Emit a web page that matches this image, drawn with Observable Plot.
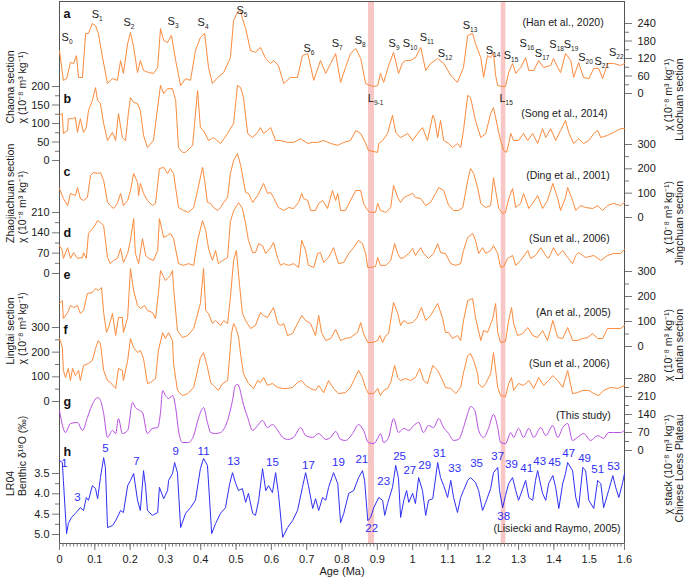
<!DOCTYPE html>
<html><head><meta charset="utf-8">
<script src="https://cdn.jsdelivr.net/npm/d3@7"></script>
<script src="https://cdn.jsdelivr.net/npm/@observablehq/plot@0.6"></script>
<style>
body{margin:0;background:#fff;}
#chart{position:relative;width:685px;height:580px;}
#chart svg{position:absolute;left:0;top:0;}
</style></head><body><div id="chart"></div>
<script>
// ---------------- DATA (age in Ma, value) ----------------
const luochuan = [[0,147],[0.011,45],[0.020,51],[0.031,106],[0.040,103],[0.048,130],[0.054,55],[0.065,55],[0.074,206],[0.082,206],[0.093,240],[0.102,233],[0.110,206],[0.122,123],[0.136,34],[0.150,51],[0.164,45],[0.173,113],[0.181,69],[0.193,171],[0.201,209],[0.210,158],[0.221,72],[0.229,113],[0.238,79],[0.252,72],[0.266,69],[0.278,89],[0.286,223],[0.295,182],[0.306,175],[0.317,199],[0.329,113],[0.343,27],[0.357,51],[0.371,45],[0.385,147],[0.399,192],[0.411,206],[0.422,89],[0.433,34],[0.448,55],[0.465,72],[0.484,123],[0.493,250],[0.504,278],[0.513,285],[0.518,257],[0.527,223],[0.541,147],[0.555,141],[0.569,158],[0.584,120],[0.598,103],[0.606,113],[0.620,96],[0.635,34],[0.654,55],[0.674,55],[0.688,130],[0.703,137],[0.720,45],[0.739,113],[0.754,69],[0.768,103],[0.782,137],[0.796,38],[0.810,89],[0.824,137],[0.839,154],[0.853,120],[0.867,34],[0.887,24],[0.901,27],[0.909,69],[0.918,38],[0.932,96],[0.946,141],[0.960,69],[0.972,106],[0.980,113],[0.994,113],[1.008,123],[1.023,158],[1.037,79],[1.051,103],[1.071,120],[1.088,103],[1.108,62],[1.127,38],[1.144,89],[1.156,199],[1.170,206],[1.178,171],[1.193,123],[1.201,55],[1.212,130],[1.221,123],[1.229,141],[1.235,62],[1.241,27],[1.255,24],[1.263,24],[1.272,72],[1.283,103],[1.292,69],[1.306,89],[1.320,123],[1.329,79],[1.343,79],[1.357,113],[1.371,89],[1.391,96],[1.399,120],[1.411,89],[1.419,72],[1.433,137],[1.448,113],[1.456,55],[1.470,106],[1.484,55],[1.499,51],[1.513,86],[1.527,86],[1.538,51],[1.552,103],[1.569,103],[1.589,96],[1.600,103]];

const chaona = [[0,122],[0.008,127],[0.011,73],[0.023,81],[0.025,113],[0.037,113],[0.045,116],[0.051,76],[0.059,113],[0.068,76],[0.076,89],[0.082,135],[0.093,162],[0.102,197],[0.108,162],[0.116,154],[0.125,100],[0.136,54],[0.150,76],[0.159,54],[0.167,127],[0.178,62],[0.187,54],[0.195,127],[0.201,170],[0.210,157],[0.221,154],[0.229,135],[0.238,68],[0.249,35],[0.266,54],[0.286,203],[0.295,181],[0.306,194],[0.320,194],[0.329,162],[0.337,35],[0.348,22],[0.357,22],[0.377,41],[0.391,189],[0.399,89],[0.408,81],[0.422,54],[0.436,62],[0.456,46],[0.476,73],[0.493,100],[0.504,203],[0.513,197],[0.521,170],[0.533,73],[0.547,62],[0.561,76],[0.569,89],[0.578,73],[0.589,81],[0.598,89],[0.612,54],[0.626,54],[0.646,49],[0.663,49],[0.683,59],[0.703,46],[0.717,49],[0.731,49],[0.748,54],[0.768,46],[0.788,41],[0.805,49],[0.824,54],[0.839,81],[0.853,73],[0.867,46],[0.875,27],[0.901,22],[0.904,46],[0.915,54],[0.929,73],[0.943,122],[0.952,76],[0.966,62],[0.986,73],[1.000,54],[1.014,73],[1.028,89],[1.042,54],[1.057,122],[1.062,113],[1.071,62],[1.079,108],[1.088,54],[1.102,46],[1.113,35],[1.127,46],[1.136,35],[1.144,81],[1.156,176],[1.164,170],[1.178,108],[1.193,62],[1.207,73],[1.221,127],[1.229,143],[1.241,89],[1.249,54],[1.258,27],[1.266,22],[1.272,46],[1.278,73],[1.286,54],[1.300,54],[1.314,73],[1.326,54],[1.340,73],[1.354,46],[1.368,86],[1.377,62],[1.391,86],[1.405,54],[1.419,81],[1.433,108],[1.442,76],[1.456,46],[1.470,59],[1.484,46],[1.499,54],[1.513,73],[1.524,81],[1.533,62],[1.552,68],[1.569,76],[1.589,86],[1.600,86]];

const jingchuan = [[0,119],[0.011,78],[0.023,49],[0.031,99],[0.045,90],[0.051,123],[0.059,78],[0.068,70],[0.079,82],[0.088,173],[0.096,185],[0.108,181],[0.116,185],[0.125,152],[0.136,62],[0.144,49],[0.153,37],[0.164,58],[0.173,99],[0.181,49],[0.193,70],[0.201,111],[0.210,181],[0.221,144],[0.224,90],[0.229,140],[0.238,99],[0.249,70],[0.263,49],[0.272,58],[0.283,201],[0.295,206],[0.306,181],[0.314,201],[0.323,181],[0.337,41],[0.351,29],[0.365,21],[0.380,41],[0.391,111],[0.405,206],[0.411,152],[0.419,62],[0.428,58],[0.436,41],[0.448,29],[0.456,41],[0.465,62],[0.476,82],[0.484,181],[0.493,234],[0.504,263],[0.513,214],[0.527,103],[0.535,99],[0.547,62],[0.561,90],[0.578,140],[0.589,99],[0.598,103],[0.606,82],[0.620,41],[0.635,29],[0.649,41],[0.663,37],[0.677,62],[0.686,99],[0.691,78],[0.703,70],[0.711,29],[0.725,29],[0.734,58],[0.745,70],[0.759,37],[0.773,111],[0.782,70],[0.788,99],[0.796,29],[0.810,29],[0.824,70],[0.839,111],[0.853,111],[0.861,58],[0.873,29],[0.881,21],[0.895,21],[0.901,58],[0.909,29],[0.924,21],[0.938,41],[0.946,132],[0.958,82],[0.966,62],[0.975,82],[1.000,99],[1.008,82],[1.023,78],[1.037,49],[1.051,62],[1.065,99],[1.074,123],[1.088,111],[1.102,49],[1.116,29],[1.130,29],[1.142,41],[1.156,152],[1.164,201],[1.173,181],[1.184,123],[1.193,58],[1.207,41],[1.221,49],[1.229,164],[1.235,111],[1.244,37],[1.255,16],[1.263,21],[1.272,78],[1.283,119],[1.292,41],[1.306,58],[1.314,99],[1.329,37],[1.340,58],[1.354,90],[1.368,37],[1.382,70],[1.397,140],[1.411,78],[1.419,29],[1.433,82],[1.439,123],[1.453,70],[1.462,29],[1.476,49],[1.490,41],[1.510,37],[1.524,49],[1.538,29],[1.552,49],[1.569,58],[1.589,49],[1.600,62]];

const zhaojiachuan = [[0,96],[0.008,79],[0.011,52],[0.023,89],[0.031,52],[0.040,72],[0.051,52],[0.065,55],[0.068,72],[0.076,52],[0.082,138],[0.096,158],[0.108,182],[0.116,175],[0.125,165],[0.136,55],[0.144,34],[0.153,45],[0.164,52],[0.173,86],[0.181,38],[0.193,69],[0.201,114],[0.210,189],[0.215,69],[0.224,34],[0.235,120],[0.244,62],[0.252,52],[0.266,45],[0.278,79],[0.283,189],[0.295,124],[0.306,131],[0.314,138],[0.323,120],[0.337,34],[0.351,28],[0.365,34],[0.380,28],[0.391,114],[0.405,182],[0.414,148],[0.422,86],[0.433,45],[0.442,79],[0.450,34],[0.462,45],[0.476,55],[0.484,180],[0.493,215],[0.504,238],[0.507,244],[0.518,224],[0.527,172],[0.535,114],[0.547,72],[0.555,72],[0.564,103],[0.575,96],[0.584,69],[0.598,89],[0.606,107],[0.618,52],[0.626,28],[0.635,34],[0.649,28],[0.663,34],[0.677,21],[0.686,114],[0.697,79],[0.705,28],[0.720,21],[0.731,69],[0.739,72],[0.748,38],[0.762,55],[0.776,89],[0.790,34],[0.805,38],[0.819,69],[0.833,89],[0.847,114],[0.858,103],[0.867,69],[0.873,21],[0.881,21],[0.895,24],[0.901,55],[0.909,28],[0.924,28],[0.938,45],[0.949,103],[0.958,69],[0.966,52],[0.975,55],[0.989,69],[1.000,86],[1.008,62],[1.023,89],[1.031,69],[1.045,52],[1.059,69],[1.071,103],[1.079,72],[1.093,69],[1.108,34],[1.122,28],[1.136,34],[1.144,79],[1.156,124],[1.170,138],[1.178,114],[1.187,69],[1.198,89],[1.207,69],[1.221,79],[1.229,96],[1.241,69],[1.249,21],[1.258,24],[1.269,52],[1.283,62],[1.292,28],[1.306,45],[1.326,79],[1.334,52],[1.348,62],[1.363,89],[1.377,62],[1.385,52],[1.399,89],[1.411,62],[1.425,79],[1.439,55],[1.453,34],[1.462,62],[1.470,72],[1.490,55],[1.513,62],[1.533,45],[1.552,62],[1.569,69],[1.589,69],[1.600,83]];

const lantian = [[0,172],[0.008,184],[0.011,112],[0.023,136],[0.031,164],[0.040,156],[0.051,164],[0.059,132],[0.068,144],[0.079,212],[0.093,216],[0.102,232],[0.110,224],[0.119,236],[0.125,136],[0.133,56],[0.139,76],[0.150,132],[0.159,44],[0.167,116],[0.178,116],[0.181,56],[0.193,116],[0.201,312],[0.210,224],[0.221,164],[0.229,152],[0.241,164],[0.249,144],[0.263,136],[0.272,112],[0.280,212],[0.286,304],[0.300,264],[0.314,284],[0.320,304],[0.323,236],[0.334,64],[0.348,36],[0.363,44],[0.380,72],[0.399,172],[0.408,312],[0.414,144],[0.422,132],[0.433,92],[0.442,104],[0.456,84],[0.465,104],[0.476,92],[0.484,196],[0.493,344],[0.501,384],[0.510,244],[0.518,132],[0.527,104],[0.541,72],[0.555,84],[0.569,136],[0.578,124],[0.589,116],[0.606,156],[0.618,92],[0.626,84],[0.635,92],[0.646,44],[0.660,52],[0.674,92],[0.686,124],[0.697,104],[0.711,92],[0.725,44],[0.734,124],[0.742,56],[0.754,24],[0.768,32],[0.782,68],[0.796,24],[0.810,32],[0.824,36],[0.844,56],[0.853,96],[0.861,52],[0.873,16],[0.887,16],[0.901,24],[0.907,44],[0.915,16],[0.924,44],[0.932,52],[0.946,176],[0.958,132],[0.966,84],[0.975,104],[0.986,92],[1.000,96],[1.011,112],[1.025,156],[1.037,104],[1.051,124],[1.071,172],[1.085,112],[1.093,56],[1.102,56],[1.113,32],[1.127,44],[1.136,24],[1.144,104],[1.156,184],[1.170,192],[1.178,116],[1.193,24],[1.201,64],[1.212,56],[1.227,112],[1.235,172],[1.241,56],[1.249,16],[1.263,20],[1.272,104],[1.280,156],[1.286,92],[1.297,44],[1.312,52],[1.326,76],[1.340,44],[1.354,36],[1.368,64],[1.382,24],[1.397,104],[1.411,36],[1.425,32],[1.439,76],[1.453,24],[1.467,24],[1.482,32],[1.496,36],[1.510,52],[1.524,32],[1.538,32],[1.552,72],[1.569,72],[1.589,72],[1.600,84]];

const lingtai = [[0,255],[0.008,219],[0.011,126],[0.017,97],[0.025,134],[0.031,85],[0.037,134],[0.045,105],[0.054,126],[0.059,85],[0.068,146],[0.082,154],[0.093,166],[0.102,215],[0.110,247],[0.116,235],[0.125,126],[0.136,85],[0.144,77],[0.159,53],[0.167,134],[0.178,126],[0.181,85],[0.193,166],[0.201,255],[0.210,219],[0.221,198],[0.229,207],[0.238,174],[0.249,73],[0.258,77],[0.272,93],[0.280,207],[0.292,279],[0.300,255],[0.309,279],[0.320,247],[0.323,154],[0.334,45],[0.348,24],[0.363,32],[0.380,57],[0.399,178],[0.408,198],[0.419,138],[0.428,77],[0.436,65],[0.450,45],[0.462,73],[0.476,85],[0.481,166],[0.487,275],[0.493,316],[0.499,300],[0.507,262],[0.513,190],[0.521,113],[0.535,73],[0.550,53],[0.561,85],[0.569,77],[0.578,97],[0.589,65],[0.603,73],[0.618,57],[0.632,53],[0.646,53],[0.660,57],[0.674,77],[0.686,85],[0.697,65],[0.711,53],[0.725,45],[0.734,65],[0.748,36],[0.762,85],[0.776,53],[0.790,32],[0.810,36],[0.824,57],[0.833,85],[0.847,126],[0.858,97],[0.867,53],[0.875,32],[0.890,32],[0.901,53],[0.909,24],[0.918,45],[0.929,53],[0.938,77],[0.949,146],[0.958,97],[0.966,85],[0.980,93],[0.994,85],[1.008,97],[1.020,134],[1.031,85],[1.042,73],[1.057,146],[1.071,126],[1.085,85],[1.093,57],[1.108,53],[1.122,32],[1.136,57],[1.144,117],[1.156,186],[1.164,194],[1.173,166],[1.184,113],[1.187,73],[1.198,57],[1.207,73],[1.221,113],[1.229,198],[1.241,57],[1.249,24],[1.263,20],[1.272,73],[1.280,97],[1.286,45],[1.300,73],[1.314,65],[1.329,85],[1.343,53],[1.357,97],[1.371,65],[1.385,85],[1.397,105],[1.411,85],[1.425,57],[1.439,126],[1.453,32],[1.467,36],[1.482,45],[1.499,45],[1.513,32],[1.527,24],[1.541,45],[1.561,57],[1.581,53],[1.600,65]];

const loessStack = [[0,156],[0.017,70],[0.031,105],[0.051,109],[0.065,78],[0.079,128],[0.088,163],[0.096,187],[0.108,206],[0.116,195],[0.125,144],[0.136,51],[0.150,78],[0.159,66],[0.167,124],[0.178,66],[0.193,78],[0.207,187],[0.215,167],[0.227,156],[0.235,148],[0.249,66],[0.263,86],[0.278,89],[0.286,148],[0.292,233],[0.300,214],[0.309,202],[0.320,214],[0.329,167],[0.337,78],[0.348,31],[0.365,31],[0.380,58],[0.394,128],[0.408,167],[0.419,109],[0.428,70],[0.442,66],[0.456,70],[0.476,117],[0.490,195],[0.498,253],[0.505,257],[0.513,226],[0.518,195],[0.533,128],[0.547,78],[0.561,97],[0.575,117],[0.589,89],[0.603,101],[0.618,78],[0.632,51],[0.646,43],[0.663,51],[0.683,89],[0.697,58],[0.717,51],[0.734,66],[0.754,43],[0.768,51],[0.782,74],[0.796,43],[0.810,39],[0.830,66],[0.847,101],[0.861,78],[0.875,31],[0.890,27],[0.901,47],[0.909,66],[0.918,31],[0.932,51],[0.946,124],[0.960,70],[0.975,86],[0.989,78],[1.003,97],[1.017,109],[1.031,70],[1.045,97],[1.059,89],[1.074,124],[1.088,89],[1.102,66],[1.116,39],[1.130,43],[1.144,89],[1.156,144],[1.164,171],[1.176,156],[1.187,78],[1.201,51],[1.215,86],[1.229,140],[1.241,89],[1.249,31],[1.263,27],[1.278,70],[1.286,51],[1.300,86],[1.314,51],[1.329,86],[1.343,51],[1.363,89],[1.377,58],[1.397,97],[1.411,51],[1.425,89],[1.439,105],[1.453,39],[1.467,51],[1.484,66],[1.504,39],[1.524,58],[1.541,47],[1.555,70],[1.569,70],[1.589,70],[1.600,78]];

const lr04 = [[0,3.18],[0.008,3.23],[0.011,3.67],[0.020,4.98],[0.025,4.73],[0.034,4.58],[0.045,4.48],[0.059,4.34],[0.068,4.41],[0.076,4.09],[0.082,4.16],[0.093,3.80],[0.102,3.87],[0.108,4.12],[0.116,3.60],[0.125,3.11],[0.130,3.35],[0.136,4.83],[0.150,4.78],[0.159,4.66],[0.173,4.41],[0.181,4.46],[0.193,3.80],[0.201,3.67],[0.210,3.50],[0.221,4.16],[0.229,4.41],[0.238,3.43],[0.244,3.84],[0.249,4.41],[0.263,4.53],[0.278,4.46],[0.283,3.84],[0.295,4.12],[0.306,3.92],[0.309,3.67],[0.320,3.50],[0.326,3.23],[0.334,3.48],[0.343,4.83],[0.357,4.48],[0.371,4.34],[0.385,4.16],[0.399,3.38],[0.408,3.13],[0.419,3.30],[0.431,4.98],[0.442,4.73],[0.456,4.48],[0.470,4.34],[0.482,3.75],[0.490,3.48],[0.499,3.75],[0.507,3.92],[0.518,3.87],[0.527,4.21],[0.535,3.99],[0.547,4.48],[0.555,4.53],[0.564,4.16],[0.575,3.38],[0.584,3.92],[0.592,3.80],[0.603,3.97],[0.612,3.48],[0.620,3.99],[0.632,5.07],[0.646,4.83],[0.660,4.66],[0.674,4.41],[0.688,3.84],[0.697,3.48],[0.705,3.80],[0.717,4.36],[0.725,4.12],[0.734,4.41],[0.745,4.09],[0.754,4.16],[0.762,3.84],[0.776,3.48],[0.788,3.75],[0.796,4.71],[0.805,4.48],[0.819,3.99],[0.833,3.92],[0.847,3.60],[0.858,3.43],[0.864,3.67],[0.873,4.66],[0.881,4.58],[0.890,4.34],[0.904,4.09],[0.915,4.16],[0.921,4.53],[0.929,4.24],[0.943,3.84],[0.952,3.30],[0.960,3.62],[0.966,4.58],[0.975,4.16],[0.983,3.92],[0.989,4.21],[1.000,3.99],[1.008,4.24],[1.017,3.60],[1.028,3.92],[1.037,4.53],[1.045,4.16],[1.057,4.12],[1.071,3.23],[1.079,3.60],[1.088,3.80],[1.099,4.09],[1.108,3.67],[1.116,4.09],[1.127,4.46],[1.136,4.09],[1.144,3.92],[1.156,3.67],[1.164,3.60],[1.178,3.72],[1.187,3.92],[1.198,4.41],[1.207,4.21],[1.221,3.87],[1.229,3.48],[1.241,3.35],[1.246,3.92],[1.255,4.34],[1.263,4.04],[1.272,3.75],[1.283,3.60],[1.292,3.92],[1.300,4.16],[1.312,3.87],[1.320,3.67],[1.329,4.09],[1.340,4.16],[1.348,3.67],[1.354,3.43],[1.368,3.99],[1.377,4.16],[1.385,3.75],[1.397,3.55],[1.405,3.84],[1.414,4.36],[1.425,3.75],[1.433,3.50],[1.439,3.23],[1.453,3.43],[1.462,4.09],[1.470,4.34],[1.482,3.35],[1.490,3.43],[1.499,4.16],[1.513,4.36],[1.524,3.67],[1.533,3.75],[1.541,4.34],[1.555,3.92],[1.567,3.55],[1.575,3.84],[1.584,4.09],[1.595,3.72],[1.600,3.50]];

// soil-unit labels on the Luochuan record (subscript, age of label's left edge, chi)
const soilSubs = ["0","1","2","3","4","5","6","7","8","9","10","11","12","13","14","15","16","17","18","19","20","21","22"];
const soilAges = [0.006,0.091,0.181,0.306,0.391,0.501,0.691,0.771,0.836,0.932,0.972,1.020,1.071,1.142,1.207,1.258,1.303,1.346,1.387,1.428,1.469,1.515,1.556];
const soilChi  = [192,271,244,247,244,285,154,171,182,171,171,192,137,233,147,130,171,137,168,168,123,110,141];
const loessSubs = ["9-1","15"];
const loessAges = [0.873,1.246];
const loessChi  = [-17,-17];

// marine isotope stage labels on LR04 (age, δ18O)
const misNames = ["1","3","5","7","9","11","13","15","17","19","21","22","23","25","27","29","31","33","35","37","38","39","41","43","45","47","49","51","53"];
const misAges  = [0.014,0.051,0.130,0.218,0.329,0.408,0.493,0.603,0.705,0.790,0.856,0.884,0.918,0.963,0.992,1.034,1.076,1.119,1.181,1.241,1.258,1.280,1.323,1.360,1.402,1.442,1.487,1.524,1.569];
const misD18O  = [3.25,4.09,2.88,3.20,2.96,2.96,3.20,3.23,3.30,3.23,3.16,4.85,3.70,3.08,3.43,3.30,3.01,3.38,3.25,3.08,4.56,3.28,3.38,3.20,3.23,3.01,3.13,3.40,3.33];

// highlighted intervals (Ma)
const bandStart = [0.875, 1.251];
const bandEnd   = [0.892, 1.264];

// x axis ticks
const xTickValues = [0,0.1,0.2,0.3,0.4,0.5,0.6,0.7,0.8,0.9,1,1.1,1.2,1.3,1.4,1.5,1.6];
const xTickLabels = ["0","0.1","0.2","0.3","0.4","0.5","0.6","0.7","0.8","0.9","1","1.1","1.2","1.3","1.4","1.5","1.6"];

// ---------------- LAYOUT / STYLE ----------------
const W = 685, H = 580, ML = 59, MR = 61;
const FONT = '"Liberation Sans", Arial, Helvetica, sans-serif';
const ORANGE = "#fb8a3c", PURPLE = "#b94fe0", BLUE = "#2f2ff5", PINK = "#f9c6c6";
const AXIS = "#777", TXT = "#1a1a1a";
const chi = "χ (10⁻⁸ m³ kg⁻¹)";
const baseStyle = {background: "transparent", overflow: "visible", fontFamily: FONT, fontSize: "11px"};
const root = document.getElementById("chart");

// base layer: bands, frame, age axis
const bands = bandStart.map((s, i) => ({from: s, to: bandEnd[i]}));
const minorX = d3.range(0, 161).map(i => i / 100);
root.appendChild(Plot.plot({
  width: W, height: H, marginLeft: ML, marginRight: MR, marginTop: 1, marginBottom: H - 543,
  x: {domain: [0, 1.6]},
  style: baseStyle,
  marks: [
    Plot.rect(bands, {x1: "from", x2: "to", fill: PINK}),
    Plot.frame({stroke: "#555"}),
    Plot.axisX({ticks: minorX, tickSize: 3.5, tickFormat: () => "", label: null, stroke: AXIS}),
    Plot.axisX({ticks: xTickValues, tickSize: 7, tickPadding: 5, tickFormat: d => xTickLabels[xTickValues.indexOf(d)], label: null, stroke: AXIS, fill: TXT, fontSize: 11}),
    Plot.text(["Age (Ma)"], {text: d => d, frameAnchor: "bottom", dy: 31, fontSize: 11, fill: TXT})
  ]
}));

function panel(c) {
  const data = c.series.map(([age, v]) => ({age, v}));
  const left = c.side === "left";
  const marks = [
    Plot.line(data, {x: "age", y: "v", stroke: c.color, strokeWidth: 1, curve: c.curve || "linear"}),
    Plot.axisY({anchor: c.side, ticks: c.minor, tickSize: 4, tickFormat: () => "", label: null, stroke: AXIS}),
    Plot.axisY({anchor: c.side, ticks: c.ticks, tickSize: 7, tickPadding: left ? 3 : 6, tickFormat: c.fmt, label: null, stroke: AXIS, fill: TXT, fontSize: 11}),
    Plot.text([c.titles[0]], {text: d => d, frameAnchor: left ? "left" : "right", dx: left ? -37 : 44, dy: c.titleDy || 0, rotate: -90, fontSize: 10.5, fill: TXT}),
    Plot.text([c.titles[1]], {text: d => d, frameAnchor: left ? "left" : "right", dx: left ? -49 : 55, dy: c.titleDy || 0, rotate: -90, fontSize: 10.5, fill: TXT}),
    Plot.text([c.letter], {x: () => 0.011, y: d => d[1], text: d => d[0], textAnchor: "start", fontWeight: "bold", fontSize: 12.5, fill: "#111"}),
    Plot.text([c.note], {x: d => d[1], y: d => d[2], text: d => d[0], textAnchor: "end", fontSize: 10.5, fill: TXT}),
    ...(c.extra || [])
  ];
  root.appendChild(Plot.plot({
    width: W, height: H, marginLeft: ML, marginRight: MR,
    marginTop: c.top, marginBottom: H - c.bottom,
    x: {domain: [0, 1.6], axis: null},
    y: {domain: c.domain, reverse: !!c.reverse, axis: null},
    style: baseStyle,
    marks
  }));
}

// "S|12" style labels; the part after | is set as a subscript after rendering
const soilLabels = soilSubs.map((s, i) => ({n: "S|" + s, a: soilAges[i], v: soilChi[i]}));
const loessLabels = loessSubs.map((s, i) => ({n: "L|" + s, a: loessAges[i], v: loessChi[i]}));
const misLabels = misNames.map((n, i) => ({n, a: misAges[i], v: misD18O[i]}));

panel({series: luochuan, color: ORANGE, domain: [0, 240], top: 23, bottom: 93, side: "right",
  ticks: [0, 60, 120, 180, 240], minor: [30, 90, 150, 210], titles: [chi, "Luochuan section"],
  letter: ["a", 274], note: ["(Han et al., 2020)", 1.541, 244],
  extra: [
    Plot.text(soilLabels, {x: "a", y: "v", text: "n", textAnchor: "start", fontSize: 11, fill: TXT}),
    Plot.text(loessLabels, {x: "a", y: "v", text: "n", textAnchor: "start", fontSize: 11, fill: TXT})
  ]});
panel({series: chaona, color: ORANGE, domain: [0, 200], top: 86, bottom: 160, side: "left",
  ticks: [0, 50, 100, 150, 200], minor: [25, 75, 125, 175], titles: [chi, "Chaona section"],
  letter: ["b", 167], note: ["(Song et al., 2014)", 1.552, 127]});
panel({series: jingchuan, color: ORANGE, domain: [0, 300], top: 144, bottom: 217, side: "right",
  ticks: [0, 100, 200, 300], minor: [50, 150, 250], titles: [chi, "Jingchuan section"],
  letter: ["c", 185], note: ["(Ding et al., 2001)", 1.558, 173]});
panel({series: zhaojiachuan, color: ORANGE, domain: [0, 210], top: 212, bottom: 273, side: "left",
  ticks: [0, 70, 140, 210], minor: [35, 105, 175], titles: [chi, "Zhaojiachuan section"],
  letter: ["d", 138], note: ["(Sun et al., 2006)", 1.558, 120]});
panel({series: lantian, color: ORANGE, domain: [0, 300], top: 271, bottom: 346, side: "right",
  ticks: [0, 100, 200, 300], minor: [50, 150, 250], titles: [chi, "Lantian section"],
  letter: ["e", 288], note: ["(An et al., 2005)", 1.561, 136]});
panel({series: lingtai, color: ORANGE, domain: [0, 300], top: 327, bottom: 401, side: "left",
  ticks: [0, 100, 200, 300], minor: [50, 150, 250], titles: [chi, "Lingtai section"],
  letter: ["f", 288], note: ["(Sun et al., 2006)", 1.558, 154]});
panel({series: loessStack, color: PURPLE, curve: "monotone-x", domain: [0, 280], top: 378, bottom: 450, side: "right",
  ticks: [0, 70, 140, 210, 280], minor: [35, 105, 175, 245], titles: ["χ stack (10⁻⁸ m³ kg⁻¹)", "Chinese Loess Plateau"],
  letter: ["g", 187], note: ["(This study)", 1.561, 136]});
panel({series: lr04, color: BLUE, domain: [3.5, 5.0], reverse: true, top: 473, bottom: 534, side: "left",
  ticks: [3.5, 4.0, 4.5, 5.0], minor: [3.75, 4.25, 4.75], fmt: d3.format(".1f"),
  titles: ["Benthic δ¹⁸O (‰)", "LR04"], titleDy: -8,
  letter: ["h", 2.96], note: ["(Lisiecki and Raymo, 2005)", 1.589, 4.85],
  extra: [Plot.text(misLabels, {x: "a", y: "v", text: "n", fontSize: 11.5, fill: BLUE})]});

// turn "S|12" into S with a real subscript tspan
root.querySelectorAll("text").forEach(t => {
  if (t.children.length) return;
  const m = /^([SL])\|(.+)$/.exec(t.textContent);
  if (!m) return;
  t.textContent = m[1];
  const ts = document.createElementNS("http://www.w3.org/2000/svg", "tspan");
  ts.setAttribute("font-size", "6.5");
  ts.setAttribute("dy", "3");
  ts.textContent = m[2];
  t.appendChild(ts);
});
</script>
</body></html>
